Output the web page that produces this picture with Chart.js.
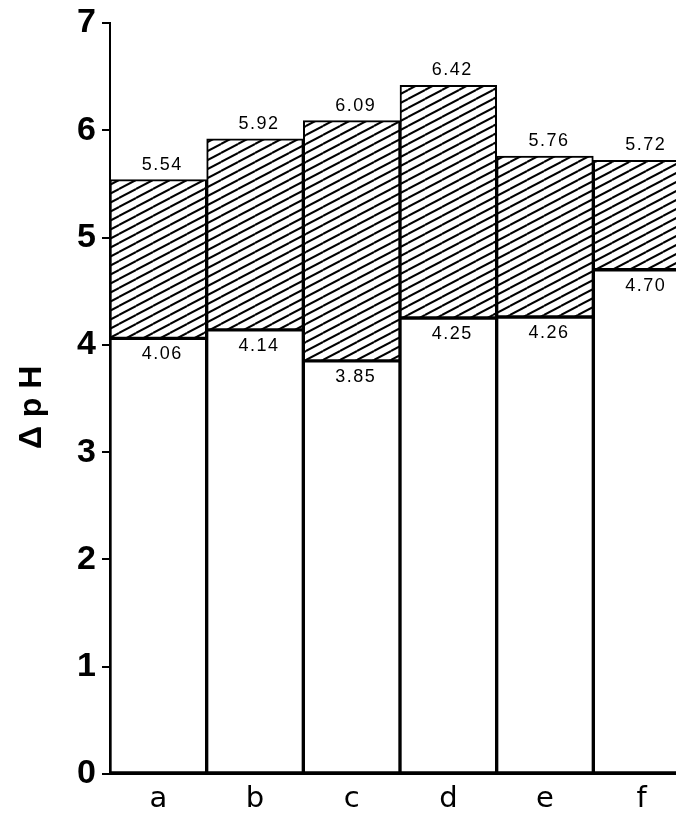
<!DOCTYPE html>
<html>
<head>
<meta charset="utf-8">
<script src="https://cdn.jsdelivr.net/npm/chart.js@4/dist/chart.umd.min.js"></script>
<style>
  html, body { margin: 0; padding: 0; background: #fff; overflow: hidden; }
  #wrap { width: 690px; height: 817px; }
</style>
</head>
<body>
<div id="wrap"><canvas id="chart" width="690" height="817"></canvas></div>
<script>
const categories = ['a', 'b', 'c', 'd', 'e', 'f'];
const lowValues = [4.06, 4.14, 3.85, 4.25, 4.26, 4.70];
const highValues = [5.54, 5.92, 6.09, 6.42, 5.76, 5.72];

// diagonal hatch tile
const makeHatch = () => {
    const w = 17, h = 9;
    const tile = document.createElement('canvas');
    tile.width = w; tile.height = h;
    const c = tile.getContext('2d');
    c.fillStyle = '#fff';
    c.fillRect(0, 0, w, h);
    c.strokeStyle = '#000';
    c.lineWidth = 2;
    [-1, 0, 1].forEach(k => {
        c.beginPath();
        c.moveTo(0, h + k * h);
        c.lineTo(w, k * h);
        c.stroke();
    });
    return c.createPattern(tile, 'repeat');
};

const ctx = document.getElementById('chart').getContext('2d');
const hatch = makeHatch();

const valueLabels = {
    id: 'valueLabels',
    afterDatasetsDraw(chart) {
        const c = chart.ctx;
        c.save();
        c.fillStyle = '#000';
        c.font = '18px "Liberation Sans", Arial, sans-serif';
        c.letterSpacing = '1.5px';
        c.textAlign = 'center';
        chart.getDatasetMeta(1).data.forEach((bar, i) => {
            c.textBaseline = 'bottom';
            c.fillText(highValues[i].toFixed(2), bar.x + 4, bar.y - 6);
        });
        chart.getDatasetMeta(0).data.forEach((bar, i) => {
            c.textBaseline = 'top';
            c.fillText(lowValues[i].toFixed(2), bar.x + 4, bar.y + 7);
        });
        c.restore();
    }
};

new Chart(ctx, {
    type: 'bar',
    data: {
        labels: categories,
        datasets: [{
            data: lowValues.map(v => [0, v]),
            backgroundColor: '#fff',
            borderColor: '#000',
            borderWidth: 2,
            borderSkipped: false,
            grouped: false,
            barPercentage: 1,
            categoryPercentage: 1
        }, {
            data: lowValues.map((v, i) => [v, highValues[i]]),
            backgroundColor: hatch,
            borderColor: '#000',
            borderWidth: 2,
            borderSkipped: false,
            grouped: false,
            barPercentage: 1,
            categoryPercentage: 1
        }]
    },
    options: {
        responsive: false,
        animation: false,
        layout: { padding: { top: 23, right: 0, bottom: 0, left: 0 } },
        plugins: { legend: { display: false }, tooltip: { enabled: false } },
        scales: {
            x: {
                grid: { display: false },
                border: { display: true, color: '#000', width: 2 },
                ticks: {
                    color: '#000',
                    padding: 0,
                    font: { family: '"DejaVu Sans", sans-serif', size: 29 }
                },
                afterFit: (s) => { s.height = 43; }
            },
            y: {
                min: 0,
                max: 7,
                grid: { drawOnChartArea: false, drawTicks: true, tickLength: 8, color: '#000', lineWidth: 2 },
                border: { display: true, color: '#000', width: 2 },
                ticks: {
                    stepSize: 1,
                    color: '#000',
                    padding: 6,
                    font: { family: '"Liberation Sans", Arial, sans-serif', size: 34, weight: 'bold', lineHeight: 1 }
                },
                title: {
                    display: true,
                    text: 'Δ p H  ',
                    color: '#000',
                    padding: { top: 13, bottom: 0 },
                    font: { family: '"Liberation Sans", Arial, sans-serif', size: 32, weight: 'bold' }
                },
                afterFit: (s) => { s.width = 110; }
            }
        }
    },
    plugins: [valueLabels]
});
</script>
</body>
</html>
